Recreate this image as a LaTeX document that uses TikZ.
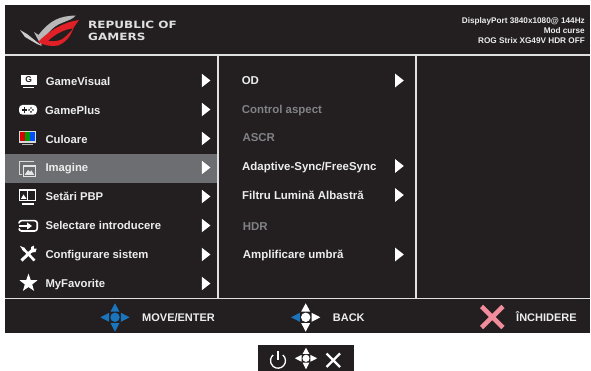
\documentclass[tikz,border=0pt]{standalone}
\usepackage{fontspec}
\setmainfont{Liberation Sans}
\newfontfamily\rogfont{DejaVu Sans}
\usetikzlibrary{shapes.geometric}
\definecolor{panelbg}{HTML}{231F20}
\definecolor{hilite}{HTML}{6D6E71}
\definecolor{rule}{HTML}{E0E0E0}
\definecolor{dimtext}{HTML}{808285}
\definecolor{lighttext}{HTML}{EDEDED}
\definecolor{navblue}{HTML}{1B75BC}
\definecolor{pinkx}{HTML}{F08C9B}
\definecolor{rogred}{HTML}{E01F26}
\tikzset{
  x=1pt,y=-1pt,
  menutext/.style={anchor=base west,inner sep=0pt,text=lighttext,font=\bfseries\fontsize{11.3}{11}\selectfont},
  subtext/.style={menutext,font=\bfseries\fontsize{11.45}{11}\selectfont},
  dimsub/.style={subtext,text=dimtext},
  foottext/.style={menutext,font=\bfseries\fontsize{11}{11}\selectfont},
  headtext/.style={anchor=base east,inner sep=0pt,text=lighttext,font=\bfseries\fontsize{8.2}{8}\selectfont},
  rogtext/.style={anchor=base west,inner sep=0pt,text=rule,font=\rogfont\bfseries\fontsize{10}{10}\selectfont},
  rulew/.style={draw=rule,line width=1.4pt},
  iconline/.style={draw=white,line width=1.3pt},
}
% submenu pointer: #1 x of left edge, #2 y of centre
\newcommand{\pointer}[2]{\fill[white] (#1,#2-6.8) -- (#1+8.6,#2) -- (#1,#2+6.8) -- cycle;}
% navigation cross: #1 cx, #2 cy, #3 scale, #4 up/down, #5 left, #6 right, #7 centre
\newcommand{\navcross}[7]{%
  \begin{scope}[shift={(#1,#2)},scale=#3]
    \fill[#4] (-4.5,-5.7) -- (0,-14) -- (4.5,-5.7) -- cycle;
    \fill[#4] (-4.5,5.7) -- (0,14.4) -- (4.5,5.7) -- cycle;
    \fill[#5] (-5.9,-4.5) -- (-14.6,0) -- (-5.9,4.5) -- cycle;
    \fill[#6] (5.9,-4.5) -- (14.6,0) -- (5.9,4.5) -- cycle;
    \fill[#7] (0,0) circle (4.7);
  \end{scope}}
\begin{document}
\begin{tikzpicture}
\useasboundingbox (0,0) rectangle (591,371);
\fill[white] (0,0) rectangle (591,371);
\fill[panelbg] (5,5) rectangle (590,333);
\fill[hilite] (5,154) rectangle (217.3,183);
% rules
\draw[rulew] (5,55) -- (590,55);
\draw[rulew] (5,298.6) -- (590,298.6);
\draw[rulew] (218,55) -- (218,298);
\draw[rulew] (416,55) -- (416,298);
% logo
\fill[white!72!black] (75.5,15.5) .. controls (60,16) and (50,20) .. (38.5,35)
  -- (34,32) -- (41,45.5) .. controls (43,38) and (52,26) .. (63,22.5)
  .. controls (69,20) and (73,19) .. (75.5,15.5) -- cycle;
\fill[white!80!black] (20,30) -- (27,34) -- (42,46) -- (37,44) -- (25,37) -- cycle;
\fill[rogred,even odd rule] (79,20) .. controls (64,22) and (50,30) .. (38,42)
  .. controls (45,46) and (52,46.5) .. (58,45.5) .. controls (67,42) and (71,35) .. (74,27)
  -- cycle
  (73,28.5) .. controls (65,29) and (55,34) .. (48,41)
  .. controls (55,42) and (62,40.5) .. (65,37) .. controls (68,34) and (71,31.5) .. (73,28.5) -- cycle;
\node[rogtext,xscale=1.2] (rogA) at (88,29) {REPUBLIC OF};
\node[rogtext,xscale=1.2] (rogB) at (88,41) {GAMERS};
% header info
\node[headtext] (infoA) at (585,24) {DisplayPort 3840x1080@ 144Hz};
\node[headtext] (infoB) at (585,34) {Mod curse};
\node[headtext] (infoC) at (585,44) {ROG Strix XG49V HDR OFF};
% left menu
\node[menutext] (m1) at (45.7,85.6) {GameVisual};
\node[menutext] (m2) at (45,114.6) {GamePlus};
\node[menutext] (m3) at (45.3,143.6) {Culoare};
\node[menutext] (m4) at (45.3,172) {Imagine};
\node[menutext] (m5) at (45.3,201) {Setări PBP};
\node[menutext] (m6) at (45.3,229.8) {Selectare introducere};
\node[menutext] (m7) at (45.3,258.6) {Configurare sistem};
\node[menutext] (m8) at (45.3,287.6) {MyFavorite};
\foreach \yy in {80.5,109.5,138.5,167.5,196.5,225.5,254.5,283.5} {\pointer{201.8}{\yy}}
% right menu
\node[subtext] (s1) at (241.6,84.6) {OD};
\node[dimsub] (s2) at (241.6,113.6) {Control aspect};
\node[dimsub] (s3) at (242.3,141.6) {ASCR};
\node[subtext] (s4) at (242,170.6) {Adaptive-Sync/FreeSync};
\node[subtext] (s5) at (242,199.6) {Filtru Lumină Albastră};
\node[dimsub] (s6) at (242.7,230.4) {HDR};
\node[subtext] (s7) at (242.7,258.6) {Amplificare umbră};
\foreach \yy in {80.5,166,195,254.5} {\pointer{395.2}{\yy}}
% icon: GameVisual
\fill[white] (20.7,75) rectangle (36.7,85);
\draw[white,line width=1pt] (23,87.7) -- (34,87.7);
\node[inner sep=0pt,text=panelbg,font=\bfseries\fontsize{8.5}{8}\selectfont] (ig) at (28.7,80) {G};
% icon: GamePlus
\fill[white,rounded corners=3.5pt] (19,105) rectangle (37,114.6);
\draw[panelbg,line width=1.1pt] (22,110) -- (27.4,110) (24.7,107.3) -- (24.7,112.7);
\fill[panelbg] (31,108.1) circle (0.9) (31,111.9) circle (0.9) (29.1,110) circle (0.9) (32.9,110) circle (0.9);
% icon: Culoare
\fill[white!85!black] (19,130.7) rectangle (36,143);
\fill[red!85!black] (20.3,132.2) rectangle (25.1,141.5);
\fill[green!60!black] (25.1,132.2) rectangle (30,141.5);
\fill[blue!70!cyan] (30,132.2) rectangle (34.8,141.5);
\draw[white!70!black,line width=1pt] (22,145) -- (33,145);
% icon: Imagine
\draw[white!85!black,line width=0.8pt] (34,161.8) -- (19.5,161.8) -- (19.5,174) -- (21.5,174);
\fill[white!90!black] (22.5,165.5) rectangle (36,177);
\fill[hilite] (23.8,166.8) rectangle (34.7,175.7);
\fill[white!90!black] (24.5,175) -- (28,170) -- (30,172) -- (31.5,170.5) -- (34.2,175) -- cycle;
% icon: PBP
\draw[iconline] (19.7,190) rectangle (35.5,200.5);
\draw[iconline] (27.6,190) -- (27.6,200.5);
\fill[white] (21,198.8) -- (23.5,194.5) -- (26.5,198.8) -- cycle;
\draw[white,line width=1.6pt] (21.5,204) -- (33.5,204);
% icon: input
\draw[white,line width=1.6pt,rounded corners=2.5pt] (19,223.5) -- (19,220.7) -- (37.2,220.7) -- (37.2,231) -- (19,231) -- (19,228.5);
\draw[white,line width=1.6pt] (18.5,226) -- (28,226);
\fill[white] (27,222.5) -- (32,226) -- (27,229.5) -- cycle;
% icon: tools
\draw[white,line width=3pt] (21.5,260.5) -- (33.5,249);
\draw[white,line width=2.6pt] (23,248.5) -- (34.5,260.5);
\fill[white] (20,246) -- (25,248) -- (23.5,251.5) -- cycle;
\fill[white] (31,247) -- (34,245.5) -- (33.8,248.5) -- (36.7,248.5) -- (35.5,252) -- (31.5,252.5) -- cycle;
% icon: star
\node[star,star points=5,star point ratio=2.45,fill=white,inner sep=0pt,minimum size=19pt] (ist) at (28.5,283.2) {};
% footer
\navcross{115}{317.3}{1}{navblue}{navblue}{navblue}{navblue}
\node[foottext] (f1) at (142,321.5) {MOVE/ENTER};
\navcross{305.7}{317.3}{1}{white}{navblue}{white}{white}
\node[foottext] (f2) at (332.7,321.5) {BACK};
\draw[pinkx,line width=4.6pt] (481.5,306.5) -- (503,327.5) (503,306.5) -- (481.5,327.5);
\node[foottext] (f3) at (516,321.5) {ÎNCHIDERE};
% button strip
\fill[panelbg] (258,345) rectangle (354,371);
\draw[white,line width=1.3pt] (282.8,354.95) arc[start angle=-50,end angle=230,radius=7.5];
\draw[white,line width=1.3pt] (278,351) -- (278,360);
\navcross{306}{358.3}{0.76}{white}{white}{white}{white}
\draw[white,line width=2.2pt] (326.5,353.5) -- (340,367) (340,353.5) -- (326.5,367);
\end{tikzpicture}
\end{document}
